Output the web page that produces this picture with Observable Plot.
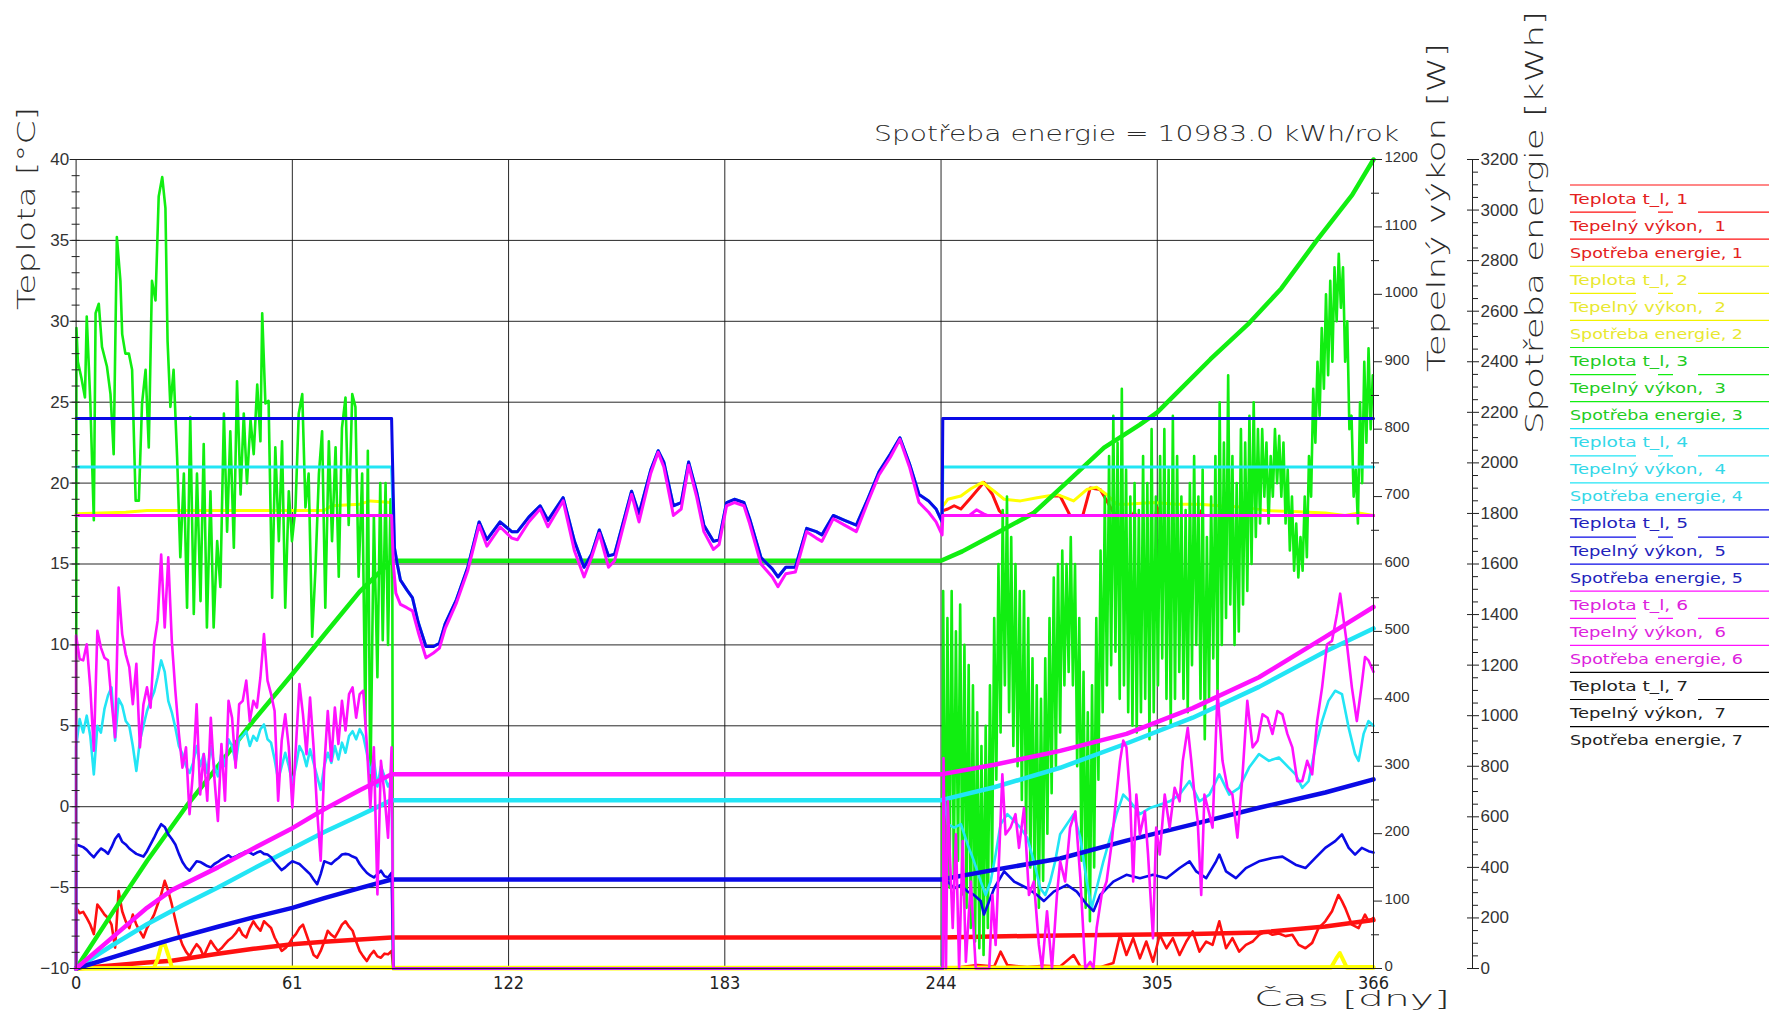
<!DOCTYPE html>
<html>
<head>
<meta charset="utf-8">
<script src="https://cdn.jsdelivr.net/npm/d3@7"></script>
<script src="https://cdn.jsdelivr.net/npm/@observablehq/plot@0.6"></script>
<style>
html,body{margin:0;padding:0;background:#fff;}
#chart svg{display:block;}
</style>
</head>
<body>
<div id="chart"></div>
<script>
// ---------------- ticks / labels ----------------
const dayTicks = [0, 61, 122, 183, 244, 305, 366];
const tempTicks = [-10, -5, 0, 5, 10, 15, 20, 25, 30, 35, 40];
const powerTicks = [0, 100, 200, 300, 400, 500, 600, 700, 800, 900, 1000, 1100, 1200];
const energyTicks = [0, 200, 400, 600, 800, 1000, 1200, 1400, 1600, 1800, 2000, 2200, 2400, 2600, 2800, 3000, 3200];
const titleText = "Spotřeba energie = 10983.0 kWh/rok";
const yTitle = "Teplota [°C]";
const powerTitle = "Tepelný výkon [W]";
const energyTitle = "Spotřeba energie [kWh]";
const xTitle = "Čas [dny]";
const seriesIds = ["1", "2", "3", "4", "5", "6", "7"];
const lineColors = ["#ff1010", "#ffff00", "#11ee11", "#22e5f5", "#0a0ae6", "#ff11ff", "#000000"];
const legendColors = ["#e42020", "#e8e830", "#22cc22", "#33d8e8", "#2222bb", "#dd22dd", "#222222"];

// ---------------- temperatures [°C] (pairs: day, value) ----------------
const tRed = [[0, 18], [89, 18], [89.3, NaN], [244.5, NaN], [244.6, 18.3], [245.9, 18.4], [247.7, 18.6], [249.6, 18.4], [252.4, 19.1], [256.1, 20.05], [258.5, 19.3], [260.4, 18.3], [261.8, 18.0], [268.3, 18.0], [270.2, 18.2], [273.5, 18.8], [275.5, 19.2], [277.6, 19.2], [280.4, 18.0], [284.0, 18.0], [286.1, 19.7], [288.9, 19.6], [292.6, 18.2], [293.5, 18.0], [298, 18.0], [298.5, 18.2], [299, 18.0], [304.5, 18.0], [305, 18.5], [305.5, 18.0], [317, 18.0], [317.5, 18.3], [318, 18.0], [366, 18.0]];
const tYellow = [[0, 18.1], [14, 18.2], [20, 18.3], [70, 18.3], [72, 18.6], [80, 18.7], [83, 18.9], [89, 18.8], [89.3, NaN], [244.5, NaN], [244.6, 18.6], [245.9, 19.0], [249.6, 19.2], [252.4, 19.65], [255.7, 20.05], [259.0, 19.5], [261.8, 19.0], [266.4, 18.9], [271.1, 19.1], [276.7, 19.3], [281.4, 18.9], [285.1, 19.6], [287.9, 19.75], [290.7, 19.3], [293.5, 18.7], [296.3, 18.7], [303.8, 18.8], [310.4, 18.7], [316.9, 18.7], [322.5, 18.6], [330.0, 18.5], [335.6, 18.3], [343.1, 18.25], [352.4, 18.15], [358.0, 18.0], [361.8, 18.15], [366, 18.0]];
// free-floating summer temperature (heating off)
const tSummer = [[89.8, 16.0], [90.6, 15.0], [91.5, 14.0], [93.3, 13.4], [94.9, 12.9], [96.5, 11.4], [98.7, 9.9], [100.8, 9.9], [102.5, 10.1], [104.1, 11.3], [107.3, 12.8], [110.5, 14.8], [113.7, 17.6], [115.9, 16.5], [119.6, 17.6], [122.9, 17.0], [124.5, 17.0], [127.7, 17.9], [130.9, 18.6], [133.1, 17.7], [137.4, 19.1], [140.6, 16.4], [143.3, 14.8], [145.4, 15.6], [147.6, 17.1], [150.2, 15.5], [151.9, 15.6], [154.0, 17.3], [156.7, 19.5], [158.8, 18.1], [162.1, 20.8], [164.2, 22.0], [165.8, 21.3], [168.5, 18.6], [170.7, 18.8], [172.8, 21.3], [175.0, 19.5], [177.1, 17.4], [179.8, 16.4], [181.4, 16.5], [183.5, 18.8], [185.7, 19.0], [188.4, 18.8], [190.0, 17.8], [193.2, 15.4], [196.4, 14.7], [198.0, 14.2], [200.2, 14.8], [202.9, 14.8], [206.1, 17.2], [208.8, 17.0], [210.4, 16.8], [213.6, 18.0], [216.8, 17.7], [220.1, 17.4], [223.3, 19.0], [226.5, 20.7], [229.7, 21.8], [232.4, 22.8], [235.1, 21.2], [237.8, 19.3], [240.5, 18.9], [242.6, 18.4], [244.3, 17.6]];
const tSummerMag = [[89.5, 15.0], [90.2, 13.2], [91.5, 12.5], [93.3, 12.3], [94.9, 12.1], [96.5, 10.8], [98.7, 9.2], [100.8, 9.5], [102.5, 9.8], [104.1, 11.0], [107.3, 12.6], [110.5, 14.6], [113.7, 17.4], [115.9, 16.1], [119.6, 17.3], [122.9, 16.6], [124.5, 16.5], [127.7, 17.6], [130.9, 18.4], [133.1, 17.3], [137.4, 18.9], [140.6, 15.8], [143.3, 14.2], [145.4, 15.4], [147.6, 16.9], [150.2, 14.8], [151.9, 15.2], [154.0, 17.0], [156.7, 19.3], [158.8, 17.6], [162.1, 20.6], [164.2, 21.9], [165.8, 21.0], [168.5, 18.0], [170.7, 18.4], [172.8, 21.1], [175.0, 19.2], [177.1, 17.0], [179.8, 15.9], [181.4, 16.2], [183.5, 18.6], [185.7, 18.8], [188.4, 18.6], [190.0, 17.5], [193.2, 15.0], [196.4, 14.2], [198.0, 13.6], [200.2, 14.4], [202.9, 14.5], [206.1, 17.0], [208.8, 16.6], [210.4, 16.4], [213.6, 17.8], [216.8, 17.4], [220.1, 17.0], [223.3, 18.8], [226.5, 20.5], [229.7, 21.6], [232.4, 22.7], [235.1, 21.0], [237.8, 18.8], [240.5, 18.2], [242.6, 17.6], [244.3, 16.8]];
const tBlueSet = 24, tCyanSet = 21, tMagSet = 18;
const tMagAutumnBump = [[244.5, 18], [252, 18.0], [254, 18.35], [256, 18.1], [257, 18], [366, 18]];

// ---------------- heat output [W] ----------------
// winter, one value per day (day 0..89)
const pMagWinter = [494,459,457,481,417,323,501,476,461,457, 397,343,565,496,466,447,392,452,328,392, 417,387,481,516,614,506,610,486,412,348, 298,328,229,293,392,258,318,249,372,283, 219,333,249,397,372,298,392,397,427,367, 397,387,432,496,427,407,382,249,338,377, 328,239,328,422,377,318,402,328,234,160, 298,382,308,387,333,397,353,407,417,372, 407,412,333,239,328,110,308,258,194,328];
const pCyanWinter = [329,370,350,375,345,288,360,350,385,405, 417,338,400,390,367,360,330,293,338,360, 382,397,410,432,457,440,397,380,357,330, 318,300,290,305,330,300,318,290,330,300, 285,320,300,340,330,305,340,345,352,330, 345,338,355,362,340,335,310,280,300,320, 300,275,300,330,320,300,325,305,285,265, 300,320,305,330,310,335,320,345,352,340, 355,345,320,290,310,270,300,285,270,280];
const pBlueWinter = [184,182,180,176,170,165,172,178,175,170, 180,192,199,188,184,178,174,170,168,166, 174,184,194,205,214,210,199,192,184,170, 158,150,145,152,159,158,155,152,150,155, 158,162,165,168,164,166,169,171,174,172, 169,172,174,170,169,165,158,152,146,150, 155,159,157,155,150,145,140,132,125,140, 159,157,155,160,164,169,170,169,166,164, 155,148,142,138,135,140,145,137,135,142];
const pRedWinter = [90,82,84,75,65,51,95,88,80,75, 65,31,115,85,70,60,80,65,55,46, 60,70,80,95,110,130,115,95,72,50, 35,25,18,28,36,30,18,30,41,33, 26,30,36,42,46,52,60,50,46,60, 70,62,56,70,65,60,46,36,26,30, 36,45,51,60,65,50,35,20,16,26, 40,56,50,46,55,65,70,62,56,40, 26,18,11,20,26,18,16,22,21,26];
// pairs (day, W)
const pGreen = [[0,0],[0.1,950],[0.5,900],[1.5,876],[2.5,847],[3.0,967],[4.0,842],[5.0,665],[5.5,972],[6.4,986],[7.3,922],[8.7,893],[9.7,852],[10.1,814],[10.6,763],[11.5,1085],[12.5,1020],[13.0,941],[13.9,912],[14.9,912],[15.8,888],[16.8,694],[17.7,694],[18.6,838],[19.6,888],[20.5,773],[21.4,1020],[22.4,991],[23.3,1145],[24.3,1174],[25.2,1128],[25.8,931],[26.6,833],[27.5,888],[28.5,758],[29.4,610],[30.4,734],[31.3,535],[32.2,818],[33.2,526],[34.1,734],[35.1,545],[36.0,778],[36.9,506],[37.9,708],[38.8,506],[39.8,634],[40.7,566],[41.7,823],[42.6,648],[43.5,797],[44.5,624],[45.4,871],[46.4,703],[47.3,823],[48.2,720],[49.2,814],[50.1,763],[51.1,866],[52.0,782],[52.5,972],[53.4,838],[54.3,842],[55.3,550],[56.2,773],[57.2,634],[58.1,782],[59.0,535],[60.0,708],[60.9,634],[61.9,684],[62.8,823],[63.8,852],[64.7,684],[65.6,734],[66.6,492],[67.5,590],[68.5,734],[69.4,797],[70.3,535],[71.3,782],[72.2,634],[73.2,773],[74.1,581],[75.0,802],[76.0,847],[76.9,658],[77.9,852],[78.8,833],[79.7,581],[80.7,734],[81.6,360],[82.3,768],[83.0,259],[84.0,672],[85.0,432],[85.8,720],[86.5,487],[87.3,720],[88.0,480],[88.7,696],[89.2,600],[89.4,0],
 [244.3,0],[244.6,560],[245.2,80],[245.8,520],[246.4,120],[247.0,560],[247.6,140],[248.2,500],[248.8,160],[249.4,540],[250.0,110],[250.6,480],[251.2,90],[251.8,450],[252.4,60],[253.0,420],[253.6,40],[254.2,380],[254.8,30],[255.4,330],[256.0,20],[256.6,360],[257.2,60],[257.8,420],[258.4,150],[259.0,520],[259.6,280],[260.2,600],[260.8,350],[261.4,680],[262.0,420],[262.6,700],[263.2,380],[263.8,640],[264.4,330],[265.0,600],[265.6,300],[266.2,560],[266.8,250],[267.4,560],[268.0,200],[268.6,520],[269.2,150],[269.8,460],[270.4,110],[271.0,420],[271.6,90],[272.2,400],[272.8,130],[273.4,460],[274.0,200],[274.6,520],[275.2,260],[275.8,580],[276.4,300],[277.0,600],[277.6,350],[278.2,620],[278.8,420],[279.4,600],[280.0,440],[280.6,640],[281.2,420],[281.8,600],[282.4,300],[283.0,520],[283.6,160],[284.2,440],[284.8,90],[285.4,380],[286.0,70],[286.6,420],[287.2,150],[287.8,520],[288.4,280],[289.0,620],[289.6,380],[290.2,700],[290.8,420],[291.4,760],[292.0,450],[292.6,820],[293.2,470],[293.8,780],[294.4,400],[295.0,860],[295.6,420],[296.2,740],[296.8,380],[297.4,700],[298.0,360],[298.6,720],[299.2,350],[299.8,680],[300.4,380],[301.0,760],[301.6,400],[302.2,720],[302.8,340],[303.4,800],[304.0,380],[304.6,700],[305.2,420],[305.8,760],[306.4,460],[307.0,800],[307.6,400],[308.2,740],[308.8,360],[309.4,820],[310.0,400],[310.6,760],[311.2,440],[311.8,700],[312.4,400],[313.0,680],[313.6,380],[314.2,720],[314.8,450],[315.4,760],[316.0,480],[316.6,700],[317.2,400],[317.8,740],[318.4,340],[319.0,640],[319.6,400],[320.2,700],[320.8,460],[321.4,760],[322.0,400],[322.6,840],[323.2,480],[323.8,780],[324.4,520],[325.0,880],[325.6,540],[326.2,760],[326.8,480],[327.4,720],[328.0,500],[328.6,800],[329.2,540],[329.8,780],[330.4,560],[331.0,820],[331.6,600],[332.2,840],[332.8,640],[333.4,800],[334.0,660],[334.6,800],[335.2,700],[335.8,780],[336.4,660],[337.0,760],[337.6,700],[338.2,800],[338.8,720],[339.4,790],[340.0,700],[340.6,780],[341.2,660],[341.8,740],[342.4,620],[343.0,700],[343.6,590],[344.2,660],[344.8,580],[345.4,640],[346.0,590],[346.6,700],[347.2,610],[347.8,760],[348.4,700],[349.0,860],[349.6,780],[350.2,900],[350.8,820],[351.4,950],[352.0,860],[352.6,1000],[353.2,880],[353.8,1020],[354.4,900],[355.0,1040],[355.6,960],[356.2,1060],[356.8,980],[357.4,1040],[358.0,900],[358.6,960],[359.2,800],[359.8,820],[360.4,700],[361.0,740],[361.6,660],[362.2,840],[362.8,720],[363.4,900],[364.0,780],[364.6,920],[365.2,800],[365.8,880]];
const pYellow = [[0,0],[22,1],[23,14],[24,34],[25,36],[26,20],[27,2],[89.3,1],[89.5,0],[244.5,0],[354,1],[355.5,15],[356.5,23],[357.5,12],[358.5,1],[366,1]];
const pMagAutumn = [[244.5,0],[244.7,312],[245.4,0],[245.9,248],[247.3,60],[248.2,199],[249.1,0],[250.1,189],[251.0,10],[252.4,129],[253.8,0],[255.7,0],[257.6,0],[258.5,109],[259.4,35],[261.3,288],[262.2,199],[263.6,209],[265.0,229],[266.0,179],[267.4,238],[268.8,109],[270.2,129],[271.6,35],[272.5,0],[273.9,85],[275.3,0],[276.7,109],[277.6,159],[279.0,129],[280.4,209],[281.9,233],[283.3,134],[284.7,0],[286.1,10],[287.0,0],[287.9,60],[289.3,109],[290.7,129],[292.1,184],[293.5,258],[294.5,308],[295.4,338],[296.3,328],[297.3,258],[298.2,129],[299.1,258],[300.1,199],[301.5,233],[302.4,169],[303.8,45],[304.7,209],[305.7,169],[307.1,258],[308.5,209],[309.9,268],[311.3,248],[312.2,308],[313.6,357],[314.6,308],[315.5,258],[316.4,219],[317.4,109],[318.3,258],[319.7,229],[320.6,209],[322.0,412],[323.4,308],[324.8,268],[326.2,258],[327.6,194],[329.0,283],[330.4,397],[331.9,328],[333.3,338],[334.7,377],[336.1,372],[337.5,348],[338.9,382],[340.3,377],[341.7,348],[343.1,328],[344.5,278],[345.9,278],[347.3,308],[348.7,288],[350.1,367],[351.5,417],[352.9,481],[354.3,486],[355.7,526],[356.6,556],[357.6,516],[358.5,481],[359.9,417],[361.3,367],[362.7,422],[363.6,462],[364.6,457],[366,440]];
const pCyanAutumn = [[244.5,0],[244.7,258],[245.9,214],[247.7,209],[249.6,214],[251.5,184],[253.3,159],[255.2,129],[256.6,109],[258.0,129],[259.4,169],[260.8,214],[262.7,229],[264.6,219],[266.4,209],[268.3,194],[270.2,159],[272.0,119],[273.4,109],[274.8,129],[276.2,159],[277.6,199],[279.5,214],[281.4,229],[283.3,194],[285.1,129],[286.5,90],[287.9,119],[289.8,159],[291.7,194],[293.5,229],[295.4,258],[297.3,248],[300.1,229],[302.9,238],[305.7,243],[308.5,248],[311.3,258],[314.1,278],[316.9,248],[319.7,258],[322.5,288],[325.3,258],[328.1,268],[330.9,298],[333.7,318],[336.5,308],[339.3,313],[342.1,298],[344.0,288],[345.9,268],[347.7,278],[349.6,328],[351.5,367],[353.3,397],[355.2,412],[357.1,407],[359.0,357],[360.8,318],[361.8,308],[363.2,348],[364.6,367],[366,360]];
const pBlueAutumn = [[244.5,0],[244.7,124],[245.9,129],[247.7,119],[249.6,124],[251.5,114],[253.3,109],[255.2,100],[256.1,80],[257.6,100],[259.0,119],[261.8,144],[264.6,129],[268.3,119],[271.1,109],[273.0,100],[275.8,114],[279.5,124],[282.3,114],[285.1,95],[287.0,85],[288.9,109],[292.6,129],[296.3,139],[300.1,134],[303.8,139],[307.6,134],[311.3,149],[314.1,159],[316.0,144],[318.8,134],[321.6,159],[322.5,169],[324.4,144],[327.2,134],[330.0,149],[333.7,159],[337.5,164],[340.3,166],[344.0,154],[346.8,149],[349.6,164],[352.4,179],[355.2,189],[357.1,199],[359.0,179],[360.8,169],[362.7,179],[364.6,174],[366,172]];
const pRedAutumn = [[244.5,0],[244.7,0],[249.6,2],[254.3,5],[259.0,3],[260.8,25],[262.7,5],[268.3,2],[273.0,4],[277.6,3],[281.4,20],[283.3,3],[288.9,2],[292.6,8],[294.5,50],[296.3,20],[298.2,45],[300.1,15],[301.9,40],[303.8,10],[305.7,50],[307.6,30],[309.4,45],[311.3,20],[313.2,40],[315.0,55],[316.9,25],[318.8,40],[320.6,35],[322.5,70],[324.4,30],[326.2,45],[328.1,25],[330.0,35],[331.9,40],[333.7,50],[335.6,55],[337.5,50],[339.3,52],[341.2,48],[343.1,50],[344.9,35],[346.8,30],[348.7,38],[350.5,60],[352.4,70],[354.3,85],[356.1,109],[357.1,100],[358.0,90],[359.9,65],[361.8,60],[363.6,80],[364.6,70],[366,75]];

// ---------------- cumulative energy [kWh] (pairs: day, value) ----------------
const eRed = [[0,0],[10,12],[20,24],[27,31],[40,58],[50,78],[61,96],[70,106],[80,115],[89,123],[244,123],[277.6,131],[315,136],[333.7,142],[352.4,166],[366,192]];
const eYellow = [[0,0],[89,3],[244,3],[366,6]];
const eGreen = [[0,0],[10,215],[20,425],[31,640],[40,800],[50,980],[61,1165],[70,1320],[80,1491],[89,1613],[244,1613],[250,1650],[260,1725],[270,1800],[280,1930],[290,2060],[300,2150],[305,2200],[310,2270],[320,2410],[331,2554],[340,2690],[350,2880],[360,3060],[366,3200]];
const eCyan = [[0,0],[10,90],[20,175],[30,250],[40,320],[50,395],[61,475],[70,540],[80,605],[89,666],[244,666],[259,717],[277.6,794],[296.3,890],[315,992],[333.7,1114],[352.4,1254],[366,1345]];
const eBlue = [[0,0],[10,43],[20,86],[27,115],[40,165],[50,202],[61,240],[70,278],[80,318],[89,352],[244,352],[259,390],[277.6,435],[296.3,506],[315,570],[333.7,636],[352.4,696],[366,748]];
const eMag = [[0,0],[10,120],[20,240],[27,310],[40,400],[50,475],[61,555],[70,630],[80,705],[89,768],[244,768],[259,806],[277.6,861],[296.3,928],[315,1030],[333.7,1152],[352.4,1312],[366,1430]];

// ---------------- map secondary units onto the temperature scale ----------------
const W_MAX = 1200, E_MAX = 3200, T_MIN = -10, T_SPAN = 50;
const fromW = w => T_MIN + w / W_MAX * T_SPAN;
const fromE = e => T_MIN + e / E_MAX * T_SPAN;
const toW = t => String(Math.round((t - T_MIN) / T_SPAN * W_MAX));
const toE = t => String(Math.round((t - T_MIN) / T_SPAN * E_MAX));

const pts = (arr, f = v => v) => arr.map(([x, v]) => ({x, y: f(v)}));
const dailyW = arr => arr.map((v, i) => ({x: i, y: fromW(v)}));
const winterPower = (arr, autumn) => [{x: 0, y: fromW(0)}, ...dailyW(arr), {x: 89.5, y: fromW(0)}, {x: 244.4, y: fromW(0)}, ...pts(autumn, fromW)];
const setpoint = (v, summer) => [{x: 0, y: v}, {x: 89, y: v}, ...pts(summer), {x: 244.5, y: v}, {x: 366, y: v}];

const lineOpts = (color, w) => ({x: "x", y: "y", stroke: color, strokeWidth: w, strokeLinejoin: "round"});
const [cR, cY, cG, cC, cB, cM] = lineColors;
const NW = 2.6; // noisy power line width

const marks = [
  Plot.gridX(dayTicks.slice(1, -1), {stroke: "#111", strokeOpacity: 0.9, strokeWidth: 1}),
  Plot.gridY(tempTicks.slice(1, -1), {stroke: "#111", strokeOpacity: 0.9, strokeWidth: 1}),
  // series 1 (red)
  Plot.line(pts(tRed), lineOpts(cR, 3)),
  Plot.line(pts(eRed, fromE), lineOpts(cR, 4.5)),
  Plot.line(winterPower(pRedWinter, pRedAutumn), lineOpts(cR, NW)),
  // series 2 (yellow)
  Plot.line(pts(tYellow), lineOpts(cY, 3)),
  Plot.line(pts(pYellow, fromW), lineOpts(cY, 4)),
  Plot.line(pts(eYellow, fromE), lineOpts(cY, 4)),
  // series 3 (green)
  Plot.line(pts(pGreen, fromW), lineOpts(cG, NW)),
  Plot.line(pts(eGreen, fromE), lineOpts(cG, 4.5)),
  // series 4 (cyan)
  Plot.line(setpoint(tCyanSet, tSummer), lineOpts(cC, 3)),
  Plot.line(winterPower(pCyanWinter, pCyanAutumn), lineOpts(cC, NW)),
  Plot.line(pts(eCyan, fromE), lineOpts(cC, 4.5)),
  // series 5 (blue)
  Plot.line(setpoint(tBlueSet, tSummer), lineOpts(cB, 3)),
  Plot.line(winterPower(pBlueWinter, pBlueAutumn), lineOpts(cB, NW)),
  Plot.line(pts(eBlue, fromE), lineOpts(cB, 4.5)),
  // series 6 (magenta)
  Plot.line(setpoint(tMagSet, tSummerMag), lineOpts(cM, 3)),
  Plot.line(pts(tMagAutumnBump), lineOpts(cM, 3)),
  Plot.line(winterPower(pMagWinter, pMagAutumn), lineOpts(cM, NW)),
  Plot.line(pts(eMag, fromE), lineOpts(cM, 4.5)),
  // frame and axes
  Plot.frame({stroke: "#222", strokeWidth: 1}),
  Plot.axisX(dayTicks, {tickSize: 0, tickPadding: 8, label: null, fontFamily: "Liberation Sans Narrow, DejaVu Sans Condensed, sans-serif", fontSize: 18, fill: "#222"}),
  Plot.axisY(tempTicks, {anchor: "left", tickSize: 6, tickPadding: 1, label: null, fontFamily: "Liberation Sans, sans-serif", fontSize: 17, fill: "#333"}),
  Plot.axisY(d3.range(-10, 40.01, 1), {anchor: "left", dx: 4, tickSize: 8, tickFormat: () => "", label: null}),
  // power axis: ticks, then labels lifted slightly
  Plot.axisY(powerTicks.map(fromW), {anchor: "right", tickSize: 8, tickFormat: () => "", label: null}),
  Plot.axisY(powerTicks.map(fromW), {anchor: "right", dy: -2, tickSize: 0, tickPadding: 11, tickFormat: toW, label: null, fontFamily: "Liberation Sans, sans-serif", fontSize: 15, fill: "#333"}),
  Plot.axisY(d3.range(50, 1200, 100).map(fromW), {anchor: "right", dx: -3, tickSize: 8, tickFormat: () => "", label: null}),
  Plot.ruleX([366], {y1: -10, y2: 40, dx: 99, stroke: "#222", strokeWidth: 1}),
  Plot.axisY(energyTicks.map(fromE), {anchor: "right", dx: 93, tickSize: 12, tickPadding: 2, tickFormat: toE, label: null, fontFamily: "Liberation Sans, sans-serif", fontSize: 17, fill: "#333"}),
  Plot.axisY(d3.range(50, 3200, 50).filter(v => v % 200 !== 0).map(fromE), {anchor: "right", dx: 99, tickSize: 5, tickFormat: () => "", label: null})
];

const chart = Plot.plot({
  width: 1769,
  height: 1015,
  marginLeft: 75.6,
  marginRight: 396,
  marginTop: 159,
  marginBottom: 47,
  x: {domain: [0, 366]},
  y: {domain: [-10, 40]},
  style: {background: "#fff", color: "#222", fontFamily: "DejaVu Sans, sans-serif"},
  marks
});
document.getElementById("chart").appendChild(chart);

// ---------------- titles and legend (real text) ----------------
const svg = d3.select(chart);
const titleFont = "DejaVu Sans, sans-serif";
function addText(str, x, y, size, len, rotate, color) {
  return svg.append("text")
    .attr("transform", `translate(${x},${y})` + (rotate ? " rotate(-90)" : ""))
    .attr("text-anchor", "start")
    .style("text-anchor", "start")
    .attr("font-family", titleFont)
    .attr("font-weight", 200)
    .attr("font-size", size)
    .attr("fill", color || "#2a2a2a")
    .attr("textLength", len)
    .attr("lengthAdjust", "spacingAndGlyphs")
    .style("white-space", "pre")
    .text(str);
}
addText(titleText, 874, 141, 22, 525, false);
addText(yTitle, 35, 310, 25, 203, true);
addText(powerTitle, 1445, 372, 25, 329, true);
addText(energyTitle, 1543, 434, 25, 423, true);
addText(xTitle, 1254, 1006, 22, 196, false);

const legendKinds = [
  {fmt: id => `Teplota t_l, ${id}`, len: 118, dash: null},
  {fmt: id => `Tepelný výkon,  ${id}`, len: 156, dash: "66 22 15 25 80"},
  {fmt: id => `Spotřeba energie, ${id}`, len: 173, dash: null}
];
const legendRows = [];
seriesIds.forEach((id, s) => legendKinds.forEach(k => legendRows.push({text: k.fmt(id), len: k.len, dash: k.dash, line: lineColors[s], color: legendColors[s]})));
const legendTop = 185, legendStep = 27.08, legendX = 1570;
const lg = svg.append("g").attr("class", "legend");
legendRows.forEach((r, i) => {
  const y = legendTop + i * legendStep;
  lg.append("line").attr("x1", legendX).attr("x2", 1769).attr("y1", y).attr("y2", y)
    .attr("stroke", r.line === "#ffff00" ? "#f2f200" : r.line).attr("stroke-width", 1.2)
    .attr("stroke-dasharray", r.dash);
  lg.append("text").attr("x", legendX).attr("y", y + 18.5)
    .attr("text-anchor", "start").style("text-anchor", "start")
    .attr("font-family", titleFont).attr("font-size", 14).attr("fill", r.color)
    .attr("textLength", r.len).attr("lengthAdjust", "spacingAndGlyphs")
    .style("white-space", "pre")
    .text(r.text);
});
</script>
</body>
</html>
